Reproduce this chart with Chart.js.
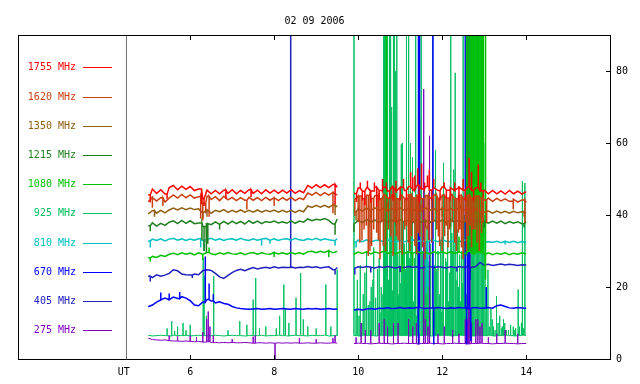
<!DOCTYPE html>
<html><head><meta charset="utf-8">
<script src="https://cdn.jsdelivr.net/npm/chart.js@4"></script>
<style>html,body{margin:0;padding:0;background:#fff;}#wrap{width:640px;height:384px;}</style>
</head><body><div id="wrap"><canvas id="c" width="640" height="384"></canvas></div>
<script>
const chartTitle = '02 09 2006';
const freqLabels = ['1755 MHz','1620 MHz','1350 MHz','1215 MHz','1080 MHz','925 MHz','810 MHz','670 MHz','405 MHz','275 MHz'];
const xTickValues = [4.42, 6, 8, 10, 12, 14];
const xTickNames = ['UT', '6', '8', '10', '12', '14'];
const yTickValues = [0, 20, 40, 60, 80];

// sample times (UT hours); 9.7 marks the data gap
const hours = [5.0,5.1,5.2,5.3,5.4,5.5,5.6,5.7,5.8,5.9,6.0,6.1,6.2,6.3,6.4,6.5,6.6,6.7,6.8,6.9,7.0,7.1,7.2,7.3,7.4,7.5,7.6,7.7,7.8,7.9,8.0,8.1,8.2,8.3,8.4,8.5,8.6,8.7,8.8,8.9,9.0,9.1,9.2,9.3,9.4,9.5,
 9.7,
 9.9,10.0,10.1,10.2,10.3,10.4,10.5,10.6,10.7,10.8,10.9,11.0,11.1,11.2,11.3,11.4,11.5,11.6,11.7,11.8,11.9,12.0,12.1,12.2,12.3,12.4,12.5,12.6,12.7,12.8,12.9,13.0,13.1,13.2,13.3,13.4,13.5,13.6,13.7,13.8,13.9,14.0];

const mhz1755 = [45.6,47.2,46.0,47.0,45.8,47.6,48.2,47.0,48.0,47.1,47.9,46.8,47.2,44.5,46.9,45.9,46.8,45.9,46.9,46.0,47.0,45.9,46.8,46.0,47.0,46.0,46.9,45.9,47.0,46.1,46.9,46.0,46.9,46.1,47.0,46.0,46.8,46.2,48.2,47.5,48.4,47.6,48.4,47.6,48.5,47.7,
 null,
 46.0,47.5,46.6,47.6,46.7,47.7,46.8,47.7,46.7,47.8,46.6,47.7,46.8,47.9,47.0,48.2,47.2,47.9,46.9,47.6,46.8,47.8,46.9,47.6,46.8,47.7,46.9,47.8,46.9,47.6,46.7,46.9,45.9,46.8,45.9,46.7,45.8,46.8,45.9,46.6,45.8,46.5];
const mhz1620 = [43.7,44.9,43.9,44.8,43.6,44.7,45.6,44.7,45.7,44.8,45.6,44.7,45.1,43.2,45.2,44.3,45.1,44.0,45.2,44.2,44.9,44.0,44.8,44.1,44.9,44.1,44.8,44.0,44.9,44.1,44.8,44.0,44.8,44.1,44.9,44.0,44.7,44.3,46.1,45.5,46.3,45.4,46.2,45.5,46.3,45.5,
 null,
 44.3,45.3,44.5,45.5,44.6,45.4,44.5,45.5,44.7,45.6,44.5,45.4,44.6,45.6,44.7,45.5,44.5,45.4,44.7,45.5,44.6,45.4,44.7,45.6,44.5,45.4,44.6,45.5,44.6,45.3,44.7,44.2,44.7,43.8,44.6,43.9,44.5,43.8,44.4,43.6,44.2,43.5];
const mhz1350 = [40.3,41.2,40.5,41.3,40.6,41.4,41.9,41.4,42.0,41.5,41.9,41.5,41.7,40.5,41.4,40.5,41.3,40.9,41.5,40.7,41.3,40.8,41.4,40.8,41.3,40.8,41.4,40.8,41.3,40.9,41.4,40.8,41.3,40.8,41.3,40.7,41.3,40.9,42.5,42.1,42.7,42.2,42.7,42.1,42.8,42.2,
 null,
 40.8,41.8,41.1,41.9,41.2,42.0,41.2,41.9,41.1,41.8,41.2,42.0,41.3,41.9,41.1,41.8,41.2,42.0,41.3,41.8,41.1,41.9,41.2,41.8,41.3,42.0,41.2,41.8,41.1,41.7,41.0,40.8,41.1,40.5,41.1,40.6,41.0,40.5,41.0,40.6,40.9,40.5];
const mhz1215 = [37.0,37.8,36.9,37.7,37.1,38.0,38.4,37.6,38.5,37.7,38.4,37.6,37.8,36.8,37.6,37.3,38.1,37.4,38.2,37.5,38.3,37.6,38.2,37.5,38.4,37.7,38.3,37.6,38.2,37.9,38.3,37.8,38.1,37.7,38.4,37.7,38.3,38.0,38.9,38.4,38.8,38.6,39.0,38.5,37.5,38.9,
 null,
 37.5,38.5,37.9,38.7,38.0,38.6,37.9,38.7,38.0,38.6,37.9,38.7,38.0,38.6,37.9,38.7,38.0,38.5,37.9,38.6,38.0,38.6,37.9,38.7,38.0,38.5,37.9,38.6,38.0,38.6,37.9,38.2,37.7,38.3,37.7,38.3,37.6,38.2,37.7,38.1,37.6,38.0];
const mhz1080 = [28.1,28.5,28.2,28.8,28.5,29.1,29.4,29.0,29.5,29.1,29.4,28.9,29.5,29.1,29.6,29.2,29.0,29.5,29.1,29.6,29.2,29.1,29.5,29.0,29.4,29.6,29.1,29.5,29.2,29.1,29.6,29.2,29.5,29.1,29.6,29.2,29.5,29.1,29.8,29.9,29.5,29.9,29.6,30.1,29.5,29.9,
 null,
 29.1,29.7,29.3,29.8,29.2,29.7,29.4,29.9,29.3,29.7,29.2,29.8,29.4,29.7,29.3,29.9,29.4,29.7,29.2,29.8,29.4,29.7,29.3,29.8,29.4,29.7,29.3,29.9,29.4,29.7,29.5,29.1,29.5,29.0,29.4,29.1,29.5,29.0,29.4,29.1,29.5,29.2];
const mhz925 = [6.6,6.4,6.5,6.6,6.5,6.4,6.6,6.5,6.5,6.6,6.4,6.5,6.6,6.5,6.4,6.5,6.6,6.5,6.4,6.5,6.6,6.5,6.5,6.4,6.6,6.5,6.5,6.6,6.4,6.5,6.5,6.6,6.5,6.4,6.5,6.6,6.5,6.5,6.4,6.6,6.5,6.5,6.6,6.4,6.5,6.5,
 null,
 6.5,6.4,6.6,6.5,6.5,6.4,6.6,6.5,6.4,6.5,6.6,6.5,6.5,6.4,6.6,6.5,6.5,6.6,6.4,6.5,6.5,6.6,6.5,6.4,6.5,6.6,6.5,6.5,6.4,6.6,6.5,6.5,6.6,6.4,6.5,6.5,6.6,6.5,6.4,6.5,6.6,6.5];
const mhz810 = [32.8,33.3,32.9,33.4,32.8,33.3,33.5,33.0,33.4,32.9,33.3,33.0,33.4,32.9,33.3,33.5,33.0,33.4,32.9,33.3,33.4,33.0,33.5,33.1,32.9,33.4,33.0,33.3,33.5,33.0,33.4,32.9,33.3,33.4,33.0,33.5,33.1,32.9,33.4,33.1,33.5,33.0,33.4,33.1,32.9,33.4,
 null,
 32.5,33.0,32.6,33.1,32.5,32.9,33.0,32.6,33.1,32.7,32.5,33.0,32.6,32.9,33.1,32.6,33.0,32.5,32.9,33.0,32.6,33.1,32.7,32.5,33.0,32.6,32.9,33.1,32.6,33.0,32.8,32.5,32.6,32.4,32.7,32.3,32.7,32.4,32.7,32.3,32.6,32.3];
const mhz670 = [14.5,15.0,15.8,16.4,16.9,16.5,17.2,16.8,17.3,16.9,16.2,15.0,14.8,15.8,16.5,16.1,15.6,15.9,15.4,15.2,14.6,14.2,14.0,13.9,13.8,13.9,14.0,13.8,13.9,14.0,13.8,13.9,14.0,13.9,13.8,14.0,13.9,13.8,14.0,13.9,14.0,13.8,13.9,14.0,13.8,13.9,
 null,
 13.6,13.8,13.6,13.9,14.0,13.8,14.1,14.0,14.2,14.0,14.1,14.3,14.0,14.2,14.1,14.3,14.2,14.0,14.2,14.1,14.3,14.2,14.0,14.2,14.1,14.3,14.2,14.0,14.2,14.3,14.1,14.2,14.3,14.1,14.8,15.0,14.6,14.2,14.1,14.3,14.2,14.1];
const mhz405 = [23.0,22.6,23.4,23.0,23.3,23.8,24.8,24.5,23.6,23.4,23.3,23.6,23.4,24.5,24.8,24.6,23.8,22.8,22.4,23.2,24.0,24.6,24.9,24.5,25.0,25.4,25.0,25.3,25.5,25.2,25.6,25.3,25.5,25.4,25.6,25.3,25.5,25.4,25.7,25.4,25.6,25.3,25.5,25.6,24.8,25.4,
 null,
 25.2,25.6,25.4,25.7,25.5,25.3,25.6,25.4,25.7,25.5,25.3,25.6,25.4,25.7,25.5,25.6,25.3,25.5,25.7,25.4,25.6,25.5,25.3,25.6,25.4,25.7,25.5,25.6,25.4,25.7,26.8,26.1,26.3,26.0,26.2,26.4,26.1,26.3,26.2,26.0,26.2,26.1];
const mhz275 = [5.8,5.4,5.3,5.2,5.3,5.1,5.0,5.0,4.9,5.0,4.9,4.8,4.9,4.7,4.8,4.6,4.6,4.5,4.6,4.5,4.6,4.5,4.5,4.6,4.5,4.4,4.5,4.5,4.4,4.5,4.4,4.5,4.4,4.5,4.4,4.5,4.4,4.4,4.5,4.4,4.4,4.5,4.4,4.4,4.5,4.4,
 null,
 4.3,4.4,4.3,4.3,4.2,4.3,4.4,4.3,4.3,4.2,4.3,4.3,4.4,4.3,4.3,4.2,4.3,4.3,4.4,4.3,4.3,4.2,4.3,4.3,4.4,4.3,4.3,4.2,4.3,4.3,4.4,4.3,4.3,4.2,4.3,4.3,4.4,4.3,4.3,4.2,4.3,4.3];

// short bursts / dropouts: [UT hour, value]
const spikes1755 = [[5.05,43.5],[5.45,44.5],[6.27,43.0],[6.33,42.5],[6.85,44.5],[7.45,45.0],[9.45,43.0],
 [9.96,43.6],[10.05,49],[10.1,44],[10.16,42.7],[10.22,49.5],[10.3,43.5],[10.38,49],[10.44,42.3],[10.5,44],[10.58,50],[10.67,49],[10.75,44.5],[10.83,44],[10.9,49.5],[11.0,44],[11.08,50],[11.15,44],[11.25,51.9],[11.3,50.5],[11.35,51],[11.42,53],[11.45,43.5],[11.51,54.3],[11.58,49],[11.65,51],[11.69,52.6],[11.75,44],[11.8,50],[11.95,44],[12.05,49],[12.1,44.5],[12.19,44],[12.3,49],[12.4,44],[12.5,50],[12.55,44],[12.64,55.9],[12.7,52],[12.75,44],[12.86,54],[12.92,49],[12.98,45]];
const spikes1620 = [[5.1,42.0],[5.35,42.5],[6.25,39.0],[6.3,38.5],[6.37,40.5],[6.45,39.5],[7.35,41.5],[8.0,42.5],[9.4,40.5],
 [9.92,39.7],[10.0,38],[10.04,32.3],[10.09,33],[10.14,36.0],[10.19,37],[10.24,28.6],[10.28,30],[10.32,31.4],[10.37,36],[10.44,35.1],[10.48,33],[10.52,27.7],[10.56,38],[10.60,31.4],[10.65,30],[10.72,36.0],[10.78,34],[10.83,28.6],[10.87,38],[10.91,34.1],[10.95,33],[10.99,30.4],[11.05,29],[11.11,36.0],[11.15,37],[11.19,32.3],[11.23,30],[11.27,34.1],[11.31,38],[11.35,31.4],[11.39,29],[11.43,35.1],[11.47,34],[11.53,31],[11.59,27.7],[11.64,36.0],[11.68,33],[11.75,32.3],[11.8,38],[11.87,36.0],[11.91,34],[11.94,31.4],[12.0,30],[12.06,34.1],[12.1,37],[12.14,31],[12.18,36.0],[12.24,38],[12.30,32.3],[12.34,30],[12.38,35.1],[12.42,36],[12.46,31],[12.50,27.7],[12.55,38],[12.58,30],[12.62,34.1],[12.66,37],[12.7,31],[12.74,36.0],[12.78,36],[12.83,32.3],[12.88,30],[12.94,35.1],[12.98,38],[13.06,37.8],[13.69,41.5],[13.97,37.8]];
const spikes1350 = [[5.15,39.5],[6.3,39.0],[6.4,39.5],[9.45,40.0],
 [9.95,38.5],[10.3,39.0],[10.7,43.5],[11.2,39.0],[11.5,43.0],[12.0,39.5],[12.45,43.0],[12.9,39.0],[13.95,39.5]];
const spikes1215 = [[5.05,35.5],[6.28,33.0],[6.33,30.0],[6.38,29.5],[6.42,32.0],[6.7,36.0],[9.45,34.5],
 [9.9,35.3],[10.25,36.5],[10.9,36.8],[11.6,36.5],[12.2,36.7],[13.0,36.5],[13.95,36.5]];
const spikes1080 = [[5.05,27.0],[6.3,27.5],[6.45,31],[8.0,28.3],[9.3,28.3],
 [10.67,95],[11.05,24],[11.3,26],[12.4,34],[12.58,95],[12.62,95],[12.66,95],[12.70,95],[12.74,95],[12.78,95],[12.82,95],[12.86,95],[12.90,95],[12.94,95],[12.98,95],[13.02,95],[13.04,22]];
const spikes925 = [[5.45,8.5],[5.56,10.5],[5.63,7.8],[5.7,9],[5.83,10],[5.9,8],[6.0,9.5],[6.31,28.1],[6.33,23],[6.38,12],[6.56,23.0],[6.9,8],[7.18,10.5],[7.35,9.5],[7.50,16.5],[7.56,22.5],[7.65,8.5],[7.8,9],[8.05,8.5],[8.13,12],[8.23,20.7],[8.27,14],[8.35,10],[8.52,17],[8.63,23.9],[8.69,11],[8.8,9],[9.0,8.5],[9.23,20.7],[9.35,9],[9.5,24.8],
 [9.9,95],[9.95,14],[9.98,22],[10.02,12],[10.05,26],[10.09,10],[10.12,18],[10.16,24],[10.2,30],[10.24,15],[10.28,16],[10.31,20],[10.35,22],[10.37,31],[10.41,17],[10.42,12],[10.46,25],[10.5,28],[10.52,13],[10.55,20],[10.57,18],[10.6,95],[10.61,26],[10.62,95],[10.63,30],[10.64,12],[10.66,95],[10.68,95],[10.7,95],[10.72,15],[10.73,22],[10.74,95],[10.75,28],[10.76,95],[10.78,11],[10.79,70],[10.8,30],[10.82,19],[10.84,95],[10.86,95],[10.88,24],[10.9,80],[10.92,95],[10.94,29],[10.95,18],[10.97,12],[10.98,40],[11.0,21],[11.02,59.6],[11.03,15],[11.05,60],[11.07,38],[11.08,20],[11.1,32],[11.12,17],[11.13,25],[11.15,95],[11.17,30],[11.19,95],[11.21,13],[11.22,28],[11.24,22],[11.25,60],[11.27,34],[11.29,56],[11.31,16],[11.33,28],[11.35,24],[11.37,95],[11.39,12],[11.41,35],[11.43,30],[11.44,20],[11.46,15],[11.47,67],[11.5,95],[11.52,26],[11.54,30],[11.56,13],[11.58,47],[11.6,31],[11.61,22],[11.63,18],[11.64,37],[11.67,27],[11.7,25],[11.72,14],[11.73,32],[11.76,95],[11.78,21],[11.81,26],[11.83,12],[11.85,58],[11.87,25],[11.9,30],[11.92,15],[11.93,18],[11.95,33],[11.97,22],[11.99,13],[12.0,34],[12.02,20],[12.04,54.5],[12.07,16],[12.09,28],[12.11,27],[12.13,38],[12.15,11],[12.16,16],[12.18,24],[12.2,19],[12.21,95],[12.23,35],[12.25,30],[12.27,14],[12.28,52.6],[12.31,79.5],[12.33,22],[12.36,36],[12.38,13],[12.39,20],[12.41,29],[12.42,26],[12.44,16],[12.46,30],[12.48,21],[12.5,95],[12.52,12],[12.53,40],[12.55,30],[12.56,95],[12.58,18],[12.6,50],[12.62,25],[12.63,95],[12.66,95],[12.69,95],[12.72,95],[12.75,95],[12.78,95],[12.81,95],[12.84,95],[12.87,95],[12.9,95],[12.93,95],[12.96,95],[12.99,60],[13.02,40],[13.05,15],[13.09,24.8],[13.12,9],[13.16,14],[13.19,11],[13.22,9],[13.26,8],[13.29,17.4],[13.33,10],[13.37,12],[13.41,8.5],[13.43,9],[13.46,11],[13.49,10],[13.53,8],[13.58,8],[13.63,9.5],[13.69,9],[13.72,8],[13.75,8.5],[13.81,19.3],[13.84,9],[13.88,10],[13.91,49.4],[13.94,8.5],[13.97,48.9]];
const spikes810 = [[5.05,31.0],[6.25,31.0],[6.33,30.0],[7.7,31.5],[7.9,32.0],[9.45,31.5],
 [9.95,31.0],[10.6,31.5],[11.62,18],[11.66,20],[12.6,30],[13.5,31.8]];
const spikes670 = [[5.3,18.5],[5.5,18.2],[5.75,18.6],[6.36,28.5],[6.45,21.0],[6.55,18],
 [11.43,95],[11.44,4],[11.46,95],[11.78,95],[11.80,4],[12.55,95],[12.58,4],[12.6,95],[12.65,95],[12.68,5],[13.05,20]];
const spikes405 = [[5.05,21.5],[6.05,22.5],[8.39,95],[9.45,23.5],
 [9.92,23.5],[10.3,24],[11.0,24.2],[12.35,24.3],[12.63,70],[12.67,22]];
const spikes275 = [[5.5,6.5],[5.7,6.3],[6.0,6.5],[6.15,6],[6.3,7.5],[6.39,11],[6.43,13.2],[6.47,9],[6.55,6.5],[7.0,5.5],[7.5,6.2],[7.55,6.5],[8.02,-2],[8.6,5.8],[9.0,5.5],[9.4,5.8],[9.45,6.5],
 [9.95,6],[10.07,10],[10.17,8],[10.3,8],[10.5,10],[10.62,11],[10.7,9],[10.84,10],[10.95,10],[11.2,11],[11.3,9],[11.38,10],[11.45,7],[11.56,75],[11.6,11],[11.66,9],[11.70,62],[11.9,7],[12.05,9],[12.25,8],[12.4,7],[12.55,11],[12.6,11],[12.63,68],[12.66,40],[12.7,10],[12.8,11],[12.85,11],[12.9,9],[12.95,10],[13.1,6],[13.3,7],[13.5,8],[13.8,7]];

const seriesValues = [mhz1755,mhz1620,mhz1350,mhz1215,mhz1080,mhz925,mhz810,mhz670,mhz405,mhz275];
const seriesSpikes = [spikes1755,spikes1620,spikes1350,spikes1215,spikes1080,spikes925,spikes810,spikes670,spikes405,spikes275];

// styles
const lineColors = ['#ff0000','#c84010','#906010','#208020','#00c000','#00c060','#00c0c0','#0000ff','#2020c0','#8000c0'];
const lineWidths = [1.5,1.5,1.5,1.5,1.5,1,1.5,1.5,1.5,1];
const drawOrder = [0,0,0,0,0,1,0,0,0,0];
const FONT = '"DejaVu Sans Mono", "Liberation Mono", monospace';
const X_MIN = 1.9, X_MAX = 16.02, DIVIDER = 4.462;

function buildPoints(values, spikes) {
  const sp = spikes.slice().sort((a, b) => a[0] - b[0]);
  const pts = [];
  let k = 0;
  for (let i = 0; i < hours.length; i++) {
    const h = hours[i], v = values[i];
    pts.push({x: h, y: v});
    if (v === null) continue;
    const next = i + 1 < hours.length ? hours[i + 1] : Infinity;
    while (k < sp.length && sp[k][0] < next) {
      if (sp[k][0] >= h) pts.push({x: sp[k][0], y: v}, {x: sp[k][0], y: sp[k][1]}, {x: sp[k][0], y: v});
      k++;
    }
  }
  return pts;
}

const datasets = freqLabels.map((lab, i) => ({
  label: lab,
  data: buildPoints(seriesValues[i], seriesSpikes[i]),
  borderColor: lineColors[i],
  backgroundColor: lineColors[i],
  borderWidth: lineWidths[i],
  order: drawOrder[i],
  pointRadius: 0,
  tension: 0,
  spanGaps: false,
  fill: false,
  clip: 0
}));

const framePlugin = {
  id: 'frame',
  afterDraw(chart) {
    const {ctx, chartArea: a, scales: {x, y}} = chart;
    ctx.save();
    ctx.font = '10px ' + FONT;
    ctx.fillStyle = '#000';
    ctx.textAlign = 'center';
    ctx.textBaseline = 'middle';
    ctx.fillText(chartTitle, (a.left + a.right) / 2, 21);
    const dx = Math.round(x.getPixelForValue(DIVIDER)) + 0.5;
    ctx.strokeStyle = '#707070';
    ctx.lineWidth = 1;
    ctx.beginPath(); ctx.moveTo(dx, a.top); ctx.lineTo(dx, a.bottom); ctx.stroke();
    ctx.strokeStyle = '#000';
    ctx.strokeRect(a.left + 0.5, a.top + 0.5, a.right - a.left - 1, a.bottom - a.top);
    ctx.beginPath();
    xTickValues.forEach((v, i) => {
      if (xTickNames[i] === 'UT') return;
      const px = Math.round(x.getPixelForValue(v)) + 0.5;
      ctx.moveTo(px, a.bottom); ctx.lineTo(px, a.bottom - 4);
      ctx.moveTo(px, a.top); ctx.lineTo(px, a.top + 5);
    });
    yTickValues.forEach(v => {
      if (v === 0) return;
      const py = Math.round(y.getPixelForValue(v)) + 0.5;
      ctx.moveTo(a.right, py); ctx.lineTo(a.right - 5, py);
    });
    ctx.stroke();
    ctx.textAlign = 'right';
    chart.data.datasets.forEach((ds, i) => {
      const ly = Math.round(67.3 + i * 29.2) + 0.5;
      ctx.fillStyle = ds.borderColor;
      ctx.fillText(ds.label, 76, ly);
      ctx.strokeStyle = ds.borderColor;
      ctx.beginPath(); ctx.moveTo(83, ly); ctx.lineTo(112, ly); ctx.stroke();
    });
    ctx.restore();
  }
};

new Chart(document.getElementById('c'), {
  type: 'line',
  data: {datasets},
  options: {
    responsive: false,
    animation: false,
    devicePixelRatio: 1,
    events: [],
    layout: {padding: {left: 18, top: 35, right: 0, bottom: 0}},
    plugins: {legend: {display: false}, tooltip: {enabled: false}, title: {display: false}},
    scales: {
      x: {
        type: 'linear', position: 'bottom', min: X_MIN, max: X_MAX,
        grid: {display: false, drawTicks: false}, border: {display: false},
        afterBuildTicks: s => { s.ticks = xTickValues.map(v => ({value: v})); },
        afterFit: s => { s.height = 25; },
        ticks: {autoSkip: false, maxRotation: 0, padding: 7, color: '#000', font: {family: FONT, size: 10},
          callback: v => xTickNames[xTickValues.indexOf(v)]}
      },
      y: {
        type: 'linear', position: 'right', min: 0, max: 90,
        grid: {display: false, drawTicks: false}, border: {display: false},
        afterBuildTicks: s => { s.ticks = yTickValues.map(v => ({value: v})); },
        afterFit: s => { s.width = 29; },
        ticks: {padding: 5, color: '#000', font: {family: FONT, size: 10}}
      }
    }
  },
  plugins: [framePlugin]
});
</script>
</body></html>
